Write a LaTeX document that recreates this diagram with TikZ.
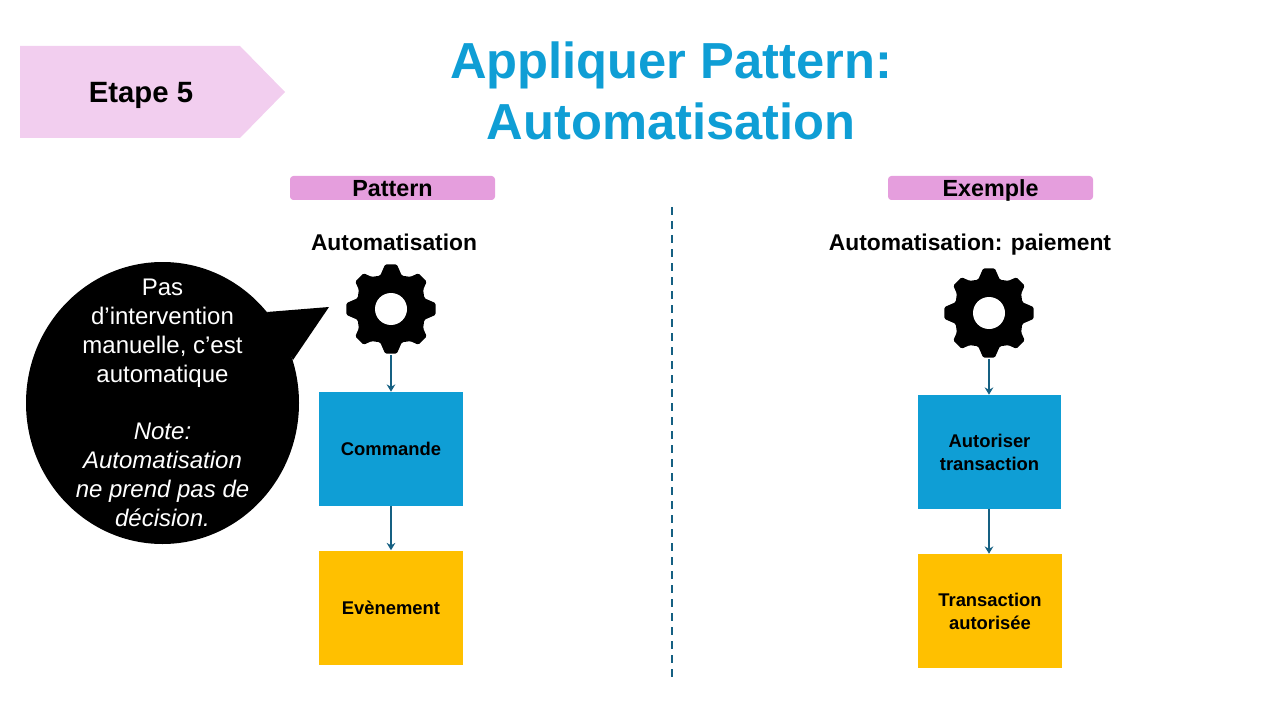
\documentclass[tikz,border=0pt]{standalone}
\usepackage{fontspec}
\setmainfont{Liberation Sans}
\setsansfont{Liberation Sans}
\usetikzlibrary{arrows.meta,positioning,calc,shapes.geometric}
\definecolor{titleblue}{HTML}{0F9ED5}
\definecolor{stepink}{HTML}{F2CEEF}
\definecolor{pillpink}{HTML}{E59EDD}
\definecolor{flowteal}{HTML}{156082}
\definecolor{eventyellow}{HTML}{FFC000}
\tikzset{
  titletext/.style={font=\sffamily\bfseries\fontsize{38}{46.2}\selectfont, text=titleblue, align=center},
  stephead/.style={font=\sffamily\bfseries\fontsize{22}{24}\selectfont, text=black},
  pill/.style={fill=pillpink, rounded corners=2.5pt, minimum width=153.75pt, minimum height=18pt,
    inner sep=0pt, text height=14.5pt, text depth=1.5pt, font=\sffamily\bfseries\fontsize{17.5}{18}\selectfont, text=black},
  caphead/.style={font=\sffamily\bfseries\fontsize{17.1}{20}\selectfont, text=black},
  sticky/.style={minimum width=107.5pt, minimum height=85.5pt, inner sep=0pt, align=center,
    font=\sffamily\bfseries\fontsize{13.8}{17.25}\selectfont, text=black},
  cmdbox/.style={sticky, fill=titleblue},
  evtbox/.style={sticky, fill=eventyellow},
  flow/.style={-{Stealth[length=5.5pt,width=6.5pt]}, line width=1.25pt, color=flowteal},
  gearslot/.style={circle, minimum size=67.5pt, inner sep=0pt},
  bubble/.style={ellipse, fill=black, minimum width=204.75pt, minimum height=211.5pt, inner sep=0pt},
  bubbletext/.style={text=white, align=center, font=\sffamily\fontsize{18}{21.6}\selectfont},
}
% black cog on a named node
\newcommand{\cogat}[1]{
  \fill[black, rounded corners=1pt] ($(#1)+(-18:35)$)
    \foreach \a/\w/\r in {0/18/35,45/14/37.5,90/18/35,135/14/37.5,180/18/35,225/14/37.5,270/18/35,315/14/37.5} {
      -- ($(#1)+(\a-\w:\r)$) -- ($(#1)+(\a-7.5:45)$) -- ($(#1)+(\a+7.5:45)$) -- ($(#1)+(\a+\w:\r)$)
    } -- cycle;
  \fill[white] (#1) circle (16);
}
\begin{document}
\begin{tikzpicture}[x=0.75pt,y=-0.75pt]
  \useasboundingbox (0,0) rectangle (1280,720);
  % header
  \fill[stepink] (20,46) -- (240,46) -- (285,92) -- (240,138) -- (20,138) -- cycle;
  \node[stephead] (steplabel) at (141,95) {Etape 5};
  \node[titletext] (title) at (671,91) {Appliquer Pattern:\\Automatisation};
  % left column
  \node[pill] (patpill) at (392.5,188) {Pattern};
  \node[caphead] (patcap) at (394,242) {Automatisation};
  \node[gearslot] (patgear) at (391,309) {};
  \cogat{patgear}
  \node[cmdbox] (patcmd) at (391,449) {Commande};
  \node[evtbox] (patevt) at (391,607.5) {Evènement};
  \draw[flow] (patgear) ++(0,46) -- (patcmd.north);
  \draw[flow] (patcmd) -- (patevt.north);
  % callout
  \fill[black] (267,312) -- (329,307) -- (293,360) -- cycle;
  \node[bubble] (note) at (162.5,403) {};
  \node[bubbletext] (notetext) at (note) {Pas\\d’intervention\\manuelle, c’est\\automatique\\[21.6pt]
    \itshape Note:\\\itshape Automatisation\\\itshape ne prend pas de\\\itshape décision.};
  % separator
  \coordinate (septop) at (672,207);
  \coordinate (sepbot) at (672,677);
  \draw[flowteal, line width=1.4pt, dash pattern=on 6pt off 4.5pt] (septop) -- (sepbot);
  % right column
  \node[pill] (expill) at (990.5,188) {Exemple};
  \node[caphead] (excap) at (970,245) {Automatisation: paiement};
  \node[gearslot] (exgear) at (989,313) {};
  \cogat{exgear}
  \node[cmdbox] (excmd) at (989.5,452) {Autoriser\\transaction};
  \node[evtbox] (exevt) at (990,611) {Transaction\\autorisée};
  \draw[flow] (exgear) ++(0,46) -- (exgear |- excmd.north);
  \draw[flow] (exgear |- excmd.south) -- (exgear |- exevt.north);
\end{tikzpicture}
\end{document}
